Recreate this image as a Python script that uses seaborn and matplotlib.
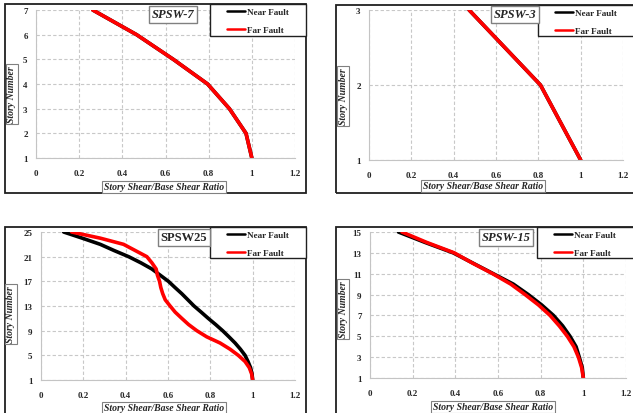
import numpy as np
import pandas as pd
import matplotlib
matplotlib.use('Agg')
import matplotlib.pyplot as plt
from matplotlib.patches import Rectangle
import seaborn as sns

# story shear / base shear ratio
stories_7 = [1, 2, 3, 4, 5, 6, 7]
near_7 = [1.0, 0.973, 0.896, 0.795, 0.636, 0.466, 0.263]
far_7 = [1.0, 0.973, 0.896, 0.795, 0.636, 0.466, 0.263]

stories_3 = [1, 2, 3]
near_3 = [1.0, 0.81, 0.473]
far_3 = [1.0, 0.81, 0.473]

stories_25 = list(range(1, 26))
near_25 = [1.0, 0.997, 0.99, 0.978, 0.964, 0.942, 0.917, 0.888, 0.858, 0.825, 0.79,
           0.757, 0.723, 0.694, 0.665, 0.633, 0.602, 0.563, 0.524, 0.472, 0.414,
           0.345, 0.28, 0.195, 0.107]
far_25 = [1.0, 0.995, 0.984, 0.964, 0.932, 0.893, 0.846, 0.783, 0.736, 0.697, 0.665,
          0.634, 0.61, 0.587, 0.575, 0.566, 0.56, 0.55, 0.544, 0.524, 0.5,
          0.445, 0.39, 0.28, 0.145]

stories_15 = list(range(1, 16))
near_15 = [1.0, 0.995, 0.981, 0.966, 0.9375, 0.903, 0.86, 0.805, 0.742, 0.672,
           0.578, 0.484, 0.39, 0.258, 0.133]
far_15 = [1.0, 0.992, 0.977, 0.956, 0.925, 0.887, 0.844, 0.79, 0.727, 0.66,
          0.575, 0.482, 0.395, 0.266, 0.15]

W, H = 633, 414
sns.set_style('white')
serif = ['Liberation Serif', 'DejaVu Serif']
plt.rcParams['font.family'] = serif

fig = plt.figure(figsize=(W / 100, H / 100), dpi=100)


def fx(px):
    return px / W


def fy(py):
    return 1 - py / H


def panel(box, frame, stories, near, far, yticks, title, italic, legbox, titlexy, ylabxy, xlabxy):
    x0, x1, ytop, ybot = box
    ax = fig.add_axes([fx(x0), fy(ybot), fx(x1 - x0), (ybot - ytop) / H])
    df = pd.DataFrame({
        'ratio': list(near) + list(far),
        'story': list(stories) + list(stories),
        'case': ['Near Fault'] * len(near) + ['Far Fault'] * len(far),
    })
    sns.lineplot(data=df, x='ratio', y='story', hue='case', sort=False, estimator=None,
                 palette={'Near Fault': 'black', 'Far Fault': '#ff0000'},
                 linewidth=2.6, ax=ax)
    handles, labels = ax.get_legend_handles_labels()
    ax.get_legend().remove()
    ax.set_xlim(0, 1.2)
    ax.set_ylim(yticks[0], yticks[-1])
    ax.set_xticks([0, 0.2, 0.4, 0.6, 0.8, 1, 1.2])
    ax.set_xticklabels(['0', '0.2', '0.4', '0.6', '0.8', '1', '1.2'])
    ax.set_yticks(yticks)
    ax.set_xlabel('')
    ax.set_ylabel('')
    ax.tick_params(length=0, labelsize=6.5, pad=6)
    ax.tick_params(axis='x', pad=8)
    for lab in ax.get_xticklabels() + ax.get_yticklabels():
        lab.set_fontweight('bold')
    ax.grid(True, ls=(0, (3, 2)), color='#c8c8c8', lw=0.8)
    for s in ['top', 'right']:
        ax.spines[s].set_visible(False)
    for s in ['left', 'bottom']:
        ax.spines[s].set_color('#c4c4c4')
        ax.spines[s].set_linewidth(0.8)

    # chart frame
    fl, ft, fr, fb = frame
    fig.patches.append(Rectangle((fx(fl), fy(fb)), fx(fr - fl), (fb - ft) / H,
                                 transform=fig.transFigure, fill=False,
                                 ec='#202020', lw=1.3, zorder=0))
    # legend box
    ll, lt, lr, lb = legbox
    fig.patches.append(Rectangle((fx(ll), fy(lb)), fx(lr - ll), (lb - lt) / H,
                                 transform=fig.transFigure, fc='white',
                                 ec='#202020', lw=1.0, zorder=3))
    leg = fig.legend(handles, labels, loc='upper left',
                     bbox_to_anchor=(fx(ll + 17), fy(lt + 4)), frameon=False,
                     prop={'family': serif, 'weight': 'bold', 'size': 6.6},
                     handlelength=2.0, handletextpad=0.2, labelspacing=1.0,
                     borderaxespad=0, borderpad=0)
    leg.set_zorder(4)
    for ln in leg.get_lines():
        ln.set_linewidth(1.8)
    fig.text(fx(titlexy[0]), fy(titlexy[1]), title, ha='center', va='center',
             fontsize=9, fontweight='bold', style='italic' if italic else 'normal',
             bbox=dict(boxstyle='square,pad=0.2', fc='white', ec='#808080', lw=1.0),
             zorder=5)
    fig.text(fx(ylabxy[0]), fy(ylabxy[1]), 'Story Number', ha='center', va='center',
             rotation=90, fontsize=7, fontweight='bold', style='italic',
             bbox=dict(boxstyle='square,pad=0.15', fc='white', ec='#808080', lw=0.8))
    fig.text(fx(xlabxy[0]), fy(xlabxy[1]), 'Story Shear/Base Shear Ratio', ha='center',
             va='center', fontsize=7, fontweight='bold', style='italic',
             bbox=dict(boxstyle='square,pad=0.15', fc='white', ec='#808080', lw=0.8))
    return ax


panel((36, 295, 11, 159), (5, 5, 306, 194), stories_7, near_7, far_7,
      [1, 2, 3, 4, 5, 6, 7], 'SPSW-7', True, (210, 5, 306, 37),
      (173, 15), (12, 95), (164, 188))
panel((369, 623, 11, 161), (336, 6, 640, 194), stories_3, near_3, far_3,
      [1, 2, 3], 'SPSW-3', True, (538, 6, 640, 37),
      (515, 15), (343, 97), (483, 187))
panel((41, 295, 233, 381), (5, 228, 306, 430), stories_25, near_25, far_25,
      [1, 5, 9, 13, 17, 21, 25], 'SPSW25', False, (210, 228, 306, 259),
      (184, 238), (11, 315), (164, 409))
panel((370, 626, 233, 379), (336, 228, 640, 430), stories_15, near_15, far_15,
      [1, 3, 5, 7, 9, 11, 13, 15], 'SPSW-15', True, (537, 228, 640, 259),
      (506, 238), (343, 310), (493, 408))

fig.savefig('out.png', dpi=100, facecolor='white')
